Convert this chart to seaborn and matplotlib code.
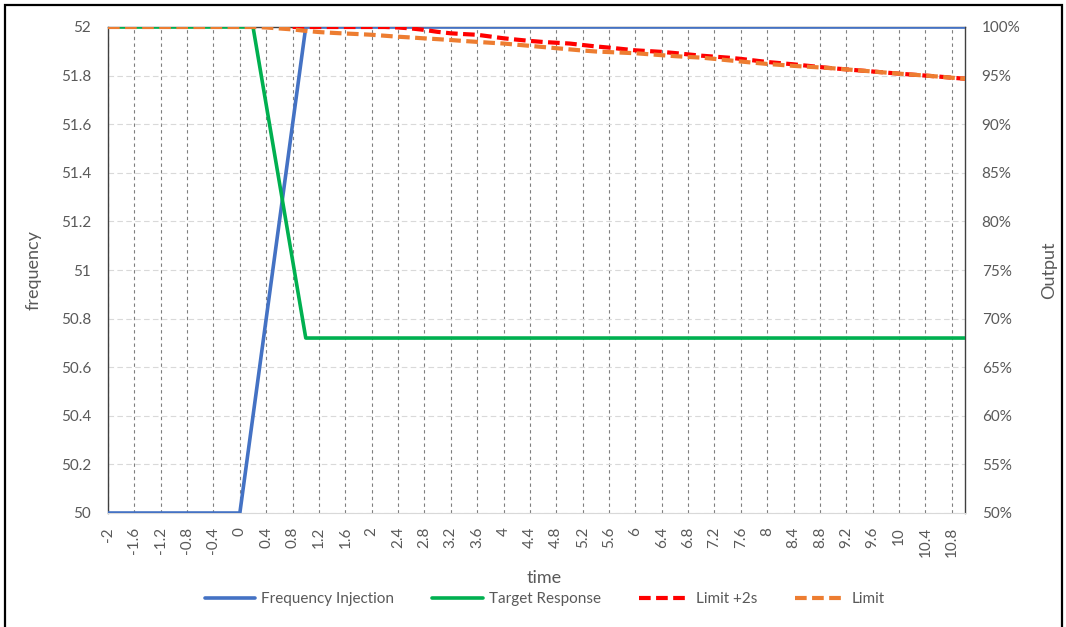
import numpy as np
import pandas as pd
import matplotlib
matplotlib.use("Agg")
import matplotlib.pyplot as plt
from matplotlib.lines import Line2D
from matplotlib.ticker import FuncFormatter, MultipleLocator
import seaborn as sns

# time categories, -2 .. 11 s in 0.2 s steps
time = np.round(np.arange(-2.0, 11.01, 0.2), 1) + 0.0

# frequency injection (Hz, left axis)
freq_injection = [50.0] * 11 + [50.4, 50.8, 51.2, 51.6] + [52.0] * 51

# output series (% , right axis)
target_response = [100.0] * 12 + [92.0, 84.0, 76.0] + [68.0] * 51

limit_2s = [np.nan] * 14 + [100.0] * 8 + [
    99.95, 99.85, 99.7, 99.5, 99.35, 99.27, 99.2, 99.02, 98.84, 98.7,
    98.57, 98.46, 98.38, 98.3, 98.15, 98.0, 97.88, 97.74, 97.6, 97.52,
    97.44, 97.32, 97.18, 97.05, 96.95, 96.85, 96.72, 96.56, 96.4, 96.28,
    96.16, 96.02, 95.88, 95.75, 95.64, 95.53, 95.42, 95.31, 95.2, 95.1,
    95.0, 94.9, 94.78, 94.68]

limit = [100.0] * 12 + [
    99.95, 99.85, 99.75, 99.6, 99.48, 99.4, 99.33, 99.27, 99.2, 99.1,
    99.0, 98.92, 98.83, 98.75, 98.66, 98.56, 98.47, 98.38, 98.3, 98.18,
    98.06, 97.94, 97.82, 97.7, 97.58, 97.48, 97.42, 97.36, 97.3, 97.2,
    97.1, 97.0, 96.92, 96.85, 96.72, 96.58, 96.45, 96.32, 96.2, 96.1,
    96.0, 95.92, 95.84, 95.75, 95.64, 95.53, 95.42, 95.31, 95.2, 95.1,
    95.0, 94.9, 94.78, 94.68]

series_names = ["Frequency Injection", "Target Response", "Limit +2s", "Limit"]
colors = ["#4472C4", "#00B050", "#FF0000", "#ED7D31"]

sns.set_style("white")
plt.rcParams["font.family"] = ["Lato", "DejaVu Sans"]
text_color = "#595959"
solid_lw = 2.6
dash_lw = 3.0
dash_pat = (2.8, 1.3)

fig = plt.figure(figsize=(10.66, 6.27), dpi=100)
ax = fig.add_axes([108 / 1066, 1 - 513 / 627, 857 / 1066, 486 / 627])
ax2 = ax.twinx()

# left axis: frequency injection
sns.lineplot(x=time, y=freq_injection, ax=ax, color=colors[0], lw=solid_lw,
             errorbar=None, legend=False, zorder=3)

# right axis: output
out = pd.DataFrame({"time": time, "target": target_response,
                    "limit2": limit_2s, "limit": limit})
sns.lineplot(data=out, x="time", y="target", ax=ax2, color=colors[1], lw=solid_lw,
             errorbar=None, legend=False)
sns.lineplot(data=out.dropna(), x="time", y="limit2", ax=ax2, color=colors[2],
             lw=dash_lw, errorbar=None, legend=False)
ax2.lines[-1].set_dashes(dash_pat)
sns.lineplot(data=out, x="time", y="limit", ax=ax2, color=colors[3], lw=dash_lw,
             errorbar=None, legend=False)
ax2.lines[-1].set_dashes(dash_pat)
for ln in ax2.lines:
    ln.set_dash_capstyle("butt")

ax.set_xlim(-2, 11)
ax.set_ylim(50, 52)
ax2.set_ylim(50, 100)

xticks = np.round(np.arange(-2.0, 10.81, 0.4), 1) + 0.0
ax.set_xticks(xticks)
ax.set_xticklabels([f"{v:g}" for v in xticks], rotation=90, va="top", ha="center")
ax.yaxis.set_major_locator(MultipleLocator(0.2))
ax.yaxis.set_major_formatter(FuncFormatter(lambda v, p: f"{v:.1f}".rstrip("0").rstrip(".")))
ax2.yaxis.set_major_locator(MultipleLocator(5))
ax2.yaxis.set_major_formatter(FuncFormatter(lambda v, p: f"{v:.0f}%"))

ax.tick_params(axis="x", length=0, pad=10, labelsize=11, labelcolor=text_color)
ax.tick_params(axis="y", length=0, pad=12, labelsize=11, labelcolor=text_color)
ax2.tick_params(axis="y", length=0, pad=12, labelsize=11, labelcolor=text_color)

ax.grid(axis="x", color="#7f7f7f", lw=0.8, linestyle=(0, (3, 3)))
ax.grid(axis="y", color="#d9d9d9", lw=0.8, linestyle=(0, (5, 3)))
ax.set_axisbelow(True)
ax2.grid(False)

for side in ["left", "right", "top"]:
    ax.spines[side].set_color("#404040")
    ax.spines[side].set_linewidth(1.0)
ax.spines["bottom"].set_color("#d9d9d9")
for sp in ax2.spines.values():
    sp.set_visible(False)

ax.set_xlabel("time", fontsize=13, color=text_color)
ax.xaxis.set_label_coords(0.509, -0.118)
ax.set_ylabel("frequency", fontsize=13, color=text_color)
ax.yaxis.set_label_coords(-0.077, 0.5)
ax2.set_ylabel("Output", fontsize=13, color=text_color)
ax2.yaxis.set_label_coords(1.089, 0.5)

handles = [
    Line2D([], [], color=colors[0], lw=solid_lw),
    Line2D([], [], color=colors[1], lw=solid_lw),
    Line2D([], [], color=colors[2], lw=dash_lw, dashes=dash_pat, dash_capstyle="butt"),
    Line2D([], [], color=colors[3], lw=dash_lw, dashes=dash_pat, dash_capstyle="butt"),
]
leg = fig.legend(handles, series_names, loc="center", bbox_to_anchor=(0.511, 0.044),
                 ncol=4, frameon=False, fontsize=11, handlelength=3.3,
                 handletextpad=0.4, columnspacing=2.5)
for t in leg.get_texts():
    t.set_color(text_color)

# chart border
fig.add_artist(plt.Rectangle((5 / 1066, -0.05), 1057 / 1066, 1.05 - 5 / 627,
                             transform=fig.transFigure, fill=False,
                             edgecolor="black", lw=1.6))

fig.savefig("out.png", dpi=100)
